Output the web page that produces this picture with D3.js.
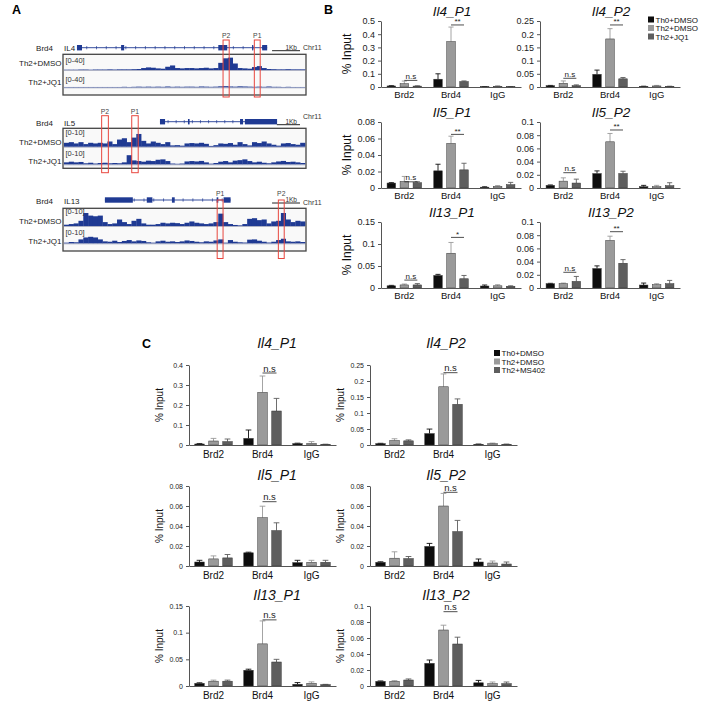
<!DOCTYPE html>
<html>
<head>
<meta charset="utf-8">
<script src="https://cdn.jsdelivr.net/npm/d3@7"></script>
<style>
  body { margin: 0; background: #fff; }
  svg { font-family: "Liberation Sans", Arial, sans-serif; }
</style>
</head>
<body>
<svg id="fig" width="709" height="703"></svg>
<script>
// ---------------- data ----------------
const groups = ['Brd2', 'Brd4', 'IgG'];
const seriesB = ['Th0+DMSO', 'Th2+DMSO', 'Th2+JQ1'];
const seriesC = ['Th0+DMSO', 'Th2+DMSO', 'Th2+MS402'];

// panel A: gene models (kb in window), peaks, coverage bins
const il4Span = [0.5, 7.31];
const il4Exons = [[0.5, 0.68], [2.08, 2.19], [5.56, 5.88], [6.77, 6.81], [7.13, 7.31]];
const il4Peaks = [['P2', 5.73, 5.95], ['P1', 6.85, 7.06]];
const il4Dmso = [1,1,1,1.5,1.5,1,1.5,1.5,1.5,2,1.5,2,2,2,2.5,3,6,8,7,5,4,10,14,6,5,6,6,5,6,7,5,6,22,36,38,20,6,5,4,9,12,6,3,2.5,2,2,2.5,2,2,2];
const il4Jq1 = [1,1,1,1,1,1,1,1,1,1,1,1,1.5,1,1.5,2,1.5,2,1.5,2,1.5,2.5,1.5,2,1.5,2,2,1.5,2.5,2,1.5,2,3,3.5,2.5,2,3,2.5,2,1.5,2,1.5,2.5,1.5,1.5,1,1.5,1,1,1];

const il5Span = [4.19, 9.25];
const il5Exons = [[4.19, 4.41], [5.4, 5.47], [7.65, 7.78], [7.86, 9.25]];
const il5Peaks = [['P2', 1.67, 1.96], ['P1', 2.97, 3.25]];
const il5Dmso = [3,3.5,2.5,3.5,2,3,2.5,3,2.5,4,2,5.5,6.5,3.5,7,9.8,4.5,2.5,4,3,2,3.5,1,1.2,0.8,2.5,2.8,2.5,3,2.2,0.6,1.2,2.5,2.2,2.8,1.5,3.5,2,1,3.5,2.8,4,2.5,1.5,0.8,2.5,2.8,2,1.5,3];
const il5Jq1 = [1.5,2,1.5,1.8,0.8,1.2,0.6,1,1.2,0.8,1,0.8,1.5,7,3,2.5,2,2.8,2.5,3.5,3.8,2.5,0.6,0.4,0.6,2.2,2.5,2.2,2.6,1.5,0.5,1,2,2.5,1.5,2.8,3.2,3.8,2.5,1.5,2,1.2,0.8,1.5,2.2,2.6,1.8,2,1.5,1];

const il13Span = [1.5, 6.0];
const il13Exons = [[1.5, 2.5], [3.0, 3.2], [3.9, 4.0], [5.5, 5.56], [5.75, 6.0]];
const il13Peaks = [['P1', 5.52, 5.73], ['P2', 7.71, 7.92]];
const il13Dmso = [1,1.5,2,4,10,8,7.5,8,3,1.5,2,5,3,1.5,4,5.5,2,1,1,1.5,2.5,2,2.5,2.2,1.5,2.5,3.5,2.5,2,1.5,2,3,9.5,3,1.5,0.8,0.5,1.5,5.5,6,4.5,5,2,3.5,4,10,5,3,4,3.5];
const il13Jq1 = [0.5,1,0.8,3,4.5,5,4.5,3,1.5,1.2,2,1,1.8,2.5,1.5,2.2,1.8,0.8,0.5,1.5,2,1.2,1.5,1,1.5,2.2,1.8,1.2,0.8,1.5,1.2,2.2,3,0.5,2.5,1.2,0.8,0.6,2.8,3,2,1.2,0.6,1.2,2.5,3.5,1.5,1.2,1.5,1];

// panel B (rows: Brd2, Brd4, IgG; cols: series)
const bIl4p1Mean = [[0.008,0.025,0.007],[0.059,0.344,0.041],[0.002,0.005,0.002]];
const bIl4p1Err  = [[0.002,0.02,0.002],[0.041,0.11,0.005],[0.001,0.005,0.001]];
const bIl4p1Ticks = [0,0.1,0.2,0.3,0.4,0.5];
const bIl4p1Sig = [['Brd2','n.s',0.05],['Brd4','**',0.47]];

const bIl4p2Mean = [[0.005,0.014,0.005],[0.048,0.182,0.031],[0.002,0.004,0.002]];
const bIl4p2Err  = [[0.001,0.009,0.003],[0.016,0.039,0.005],[0.001,0.002,0.001]];
const bIl4p2Ticks = [0,0.05,0.1,0.15,0.2,0.25];
const bIl4p2Sig = [['Brd2','n.s',0.033],['Brd4','**',0.235]];

const bIl5p1Mean = [[0.006,0.008,0.0064],[0.0208,0.054,0.022],[0.001,0.002,0.004]];
const bIl5p1Err  = [[0.0005,0.006,0.0012],[0.008,0.0088,0.008],[0.0005,0.001,0.0028]];
const bIl5p1Ticks = [0,0.02,0.04,0.06,0.08];
const bIl5p1Sig = [['Brd2','n.s',0.0075],['Brd4','**',0.065]];

const bIl5p2Mean = [[0.004,0.0104,0.0075],[0.0219,0.070,0.0219],[0.002,0.002,0.0035]];
const bIl5p2Err  = [[0.0006,0.005,0.0059],[0.004,0.0126,0.0035],[0.002,0.002,0.0045]];
const bIl5p2Ticks = [0,0.02,0.04,0.06,0.08,0.1];
const bIl5p2Sig = [['Brd2','n.s',0.0232],['Brd4','**',0.0879]];

const bIl13p1Mean = [[0.005,0.007,0.007],[0.0285,0.079,0.021],[0.0045,0.005,0.004]];
const bIl13p1Err  = [[0.001,0.002,0.003],[0.0025,0.0245,0.0075],[0.0023,0.0025,0.001]];
const bIl13p1Ticks = [0,0.05,0.1,0.15];
const bIl13p1Sig = [['Brd2','n.s',0.018],['Brd4','*',0.115]];

const bIl13p2Mean = [[0.0065,0.0065,0.01],[0.0295,0.072,0.0375],[0.0045,0.005,0.0065]];
const bIl13p2Err  = [[0.0006,0.001,0.0075],[0.004,0.0065,0.0055],[0.003,0.0015,0.005]];
const bIl13p2Ticks = [0,0.02,0.04,0.06,0.08,0.1];
const bIl13p2Sig = [['Brd2','n.s',0.0238],['Brd4','**',0.0853]];

// panel C
const cIl4p1Mean = [[0.005,0.02,0.017],[0.033,0.263,0.17],[0.007,0.008,0.003]];
const cIl4p1Err  = [[0.002,0.013,0.013],[0.042,0.082,0.063],[0.002,0.009,0.001]];
const cIl4p1Ticks = [0,0.1,0.2,0.3,0.4];
const cIl4p1Sig = [['Brd4','n.s',0.36]];

const cIl4p2Mean = [[0.0043,0.014,0.013],[0.0357,0.182,0.127],[0.002,0.004,0.002]];
const cIl4p2Err  = [[0.001,0.0055,0.003],[0.0141,0.04,0.017],[0.001,0.002,0.001]];
const cIl4p2Ticks = [0,0.05,0.1,0.15,0.2,0.25];
const cIl4p2Sig = [['Brd4','n.s',0.226]];

const cIl5p1Mean = [[0.004,0.0071,0.0081],[0.0132,0.0483,0.0354],[0.0034,0.0037,0.0037]];
const cIl5p1Err  = [[0.0017,0.003,0.0034],[0.0006,0.0115,0.0078],[0.0023,0.002,0.002]];
const cIl5p1Ticks = [0,0.02,0.04,0.06,0.08];
const cIl5p1Sig = [['Brd4','n.s',0.0643]];

const cIl5p2Mean = [[0.0037,0.0078,0.0074],[0.0196,0.060,0.0344],[0.004,0.003,0.002]];
const cIl5p2Err  = [[0.0005,0.0064,0.0021],[0.003,0.0126,0.0112],[0.003,0.002,0.002]];
const cIl5p2Ticks = [0,0.02,0.04,0.06,0.08];
const cIl5p2Sig = [['Brd4','n.s',0.0737]];

const cIl13p1Mean = [[0.005,0.009,0.009],[0.0295,0.079,0.045],[0.0032,0.005,0.0026]];
const cIl13p1Err  = [[0.001,0.002,0.002],[0.002,0.043,0.005],[0.0032,0.0027,0.0005]];
const cIl13p1Ticks = [0,0.05,0.1,0.15];
const cIl13p1Sig = [['Brd4','n.s',0.124]];

const cIl13p2Mean = [[0.0058,0.0058,0.0075],[0.0283,0.07,0.0525],[0.004,0.003,0.003]];
const cIl13p2Err  = [[0.0005,0.0009,0.0013],[0.0042,0.006,0.0085],[0.003,0.002,0.002]];
const cIl13p2Ticks = [0,0.02,0.04,0.06,0.08,0.1];
const cIl13p2Sig = [['Brd4','n.s',0.0929]];

// ---------------- drawing ----------------
const svg = d3.select('#fig');
const navy = '#1f3a93';
const barColors = ['#0d0d0d', '#9a9a9a', '#5e5e5e'];
const fmt = d3.format('~g');

// panel letters
[['A', 12, 14], ['B', 324, 14], ['C', 142, 348]].forEach(([t, x, y]) =>
  svg.append('text').attr('x', x).attr('y', y).attr('font-size', 12.5)
    .attr('font-weight', 'bold').text(t));

// ---- panel A: genome browser tracks ----
const aRows = [
  { gene: 'IL4',  kb: 8.7,  span: il4Span,  exons: il4Exons,  peaks: il4Peaks,  cov: [il4Dmso, il4Jq1],  range: '[0-40]', max: 40 },
  { gene: 'IL5',  kb: 10.5, span: il5Span,  exons: il5Exons,  peaks: il5Peaks,  cov: [il5Dmso, il5Jq1],  range: '[0-10]', max: 10 },
  { gene: 'IL13', kb: 8.7,  span: il13Span, exons: il13Exons, peaks: il13Peaks, cov: [il13Dmso, il13Jq1], range: '[0-10]', max: 10 }
];
const aPos = [
  { geneY: 47.7,  labY: 51,    box: [54.3, 95],    base: [70, 87.3],     rngY: [62.5, 82],    trkY: [66, 84.5],    red: [40, 97],      pY: 37.5,  chrY: 49.5 },
  { geneY: 121.7, labY: 125.5, box: [128.3, 168.3], base: [146.7, 164.3], rngY: [135.2, 156], trkY: [144.5, 164],  red: [115.7, 172.7], pY: 114,   chrY: 119 },
  { geneY: 200,   labY: 203.5, box: [208.3, 251],   base: [226, 243.3],   rngY: [214.3, 235.3], trkY: [223.5, 243.5], red: [200, 258.5], pY: 195.8, chrY: 204.5 }
];
const trackNames = ['Th2+DMSO', 'Th2+JQ1'];
const boxX = [63, 306];

aRows.forEach((r, i) => {
  const p = aPos[i];
  const x = d3.scaleLinear().domain([0, r.kb]).range(boxX);
  const ga = svg.append('g');

  ga.append('rect')
    .attr('x', boxX[0]).attr('y', p.box[0])
    .attr('width', boxX[1] - boxX[0]).attr('height', p.box[1] - p.box[0])
    .attr('fill', '#f9f9f9').attr('stroke', '#444').attr('stroke-width', 1.3);

  r.cov.forEach((vals, t) => {
    const xb = d3.scaleLinear().domain([0, vals.length]).range([boxX[0] + 1, boxX[1] - 1]);
    const h = d3.scaleLinear().domain([0, r.max]).range([0, 13]);
    ga.append('line')
      .attr('x1', boxX[0] + 1).attr('x2', boxX[1] - 1)
      .attr('y1', p.base[t] + 0.5).attr('y2', p.base[t] + 0.5)
      .attr('stroke', '#9aa0b8').attr('stroke-width', 0.8);
    ga.selectAll(null).data(vals).join('rect')
      .attr('x', (d, k) => xb(k))
      .attr('width', xb(1) - xb(0) + 0.3)
      .attr('y', d => p.base[t] - h(d))
      .attr('height', d => h(d))
      .attr('fill', navy);
    ga.append('text').attr('x', boxX[0] + 2.5).attr('y', p.rngY[t])
      .attr('font-size', 7.5).attr('fill', '#333').text(r.range);
    ga.append('text').attr('x', 61.5).attr('y', p.trkY[t])
      .attr('text-anchor', 'end').attr('font-size', 8).attr('fill', '#222')
      .text(trackNames[t]);
  });

  // gene model
  ga.append('text').attr('x', 53).attr('y', p.labY).attr('text-anchor', 'end')
    .attr('font-size', 8).attr('fill', '#222').text('Brd4');
  ga.append('text').attr('x', 64).attr('y', p.labY)
    .attr('font-size', 8).attr('fill', '#222').text(r.gene);
  ga.append('line')
    .attr('x1', x(r.span[0])).attr('x2', x(r.span[1]))
    .attr('y1', p.geneY).attr('y2', p.geneY)
    .attr('stroke', navy).attr('stroke-width', 0.9);
  d3.range(r.span[0] + 0.35, r.span[1], 0.35).forEach(k =>
    ga.append('line').attr('x1', x(k)).attr('x2', x(k))
      .attr('y1', p.geneY - 1.6).attr('y2', p.geneY + 1.6)
      .attr('stroke', navy).attr('stroke-width', 0.7));
  ga.selectAll(null).data(r.exons).join('rect')
    .attr('x', d => x(d[0])).attr('width', d => Math.max(1.2, x(d[1]) - x(d[0])))
    .attr('y', p.geneY - 2.7).attr('height', 5.4)
    .attr('fill', navy);

  // scale bar + chromosome
  ga.append('line').attr('x1', 300 - (x(1) - x(0))).attr('x2', 300)
    .attr('y1', p.geneY + 3).attr('y2', p.geneY + 3)
    .attr('stroke', '#222').attr('stroke-width', 1);
  ga.append('text').attr('x', 297).attr('y', p.geneY + 2.2).attr('text-anchor', 'end')
    .attr('font-size', 6.5).attr('fill', '#333').text('1Kb');
  ga.append('text').attr('x', 303).attr('y', p.chrY)
    .attr('font-size', 7).attr('fill', '#333').text('Chr11');

  // peak regions
  r.peaks.forEach(([name, a, b]) => {
    ga.append('rect').attr('x', x(a)).attr('y', p.red[0])
      .attr('width', x(b) - x(a)).attr('height', p.red[1] - p.red[0])
      .attr('fill', 'none').attr('stroke', '#e8473f').attr('stroke-width', 1);
    ga.append('text').attr('x', (x(a) + x(b)) / 2).attr('y', p.pY)
      .attr('text-anchor', 'middle').attr('font-size', 6.8).attr('fill', '#444').text(name);
  });
});

// ---- bar chart helper (panels B and C) ----
function drawBarChart(c, L) {
  const y = d3.scaleLinear().domain([0, d3.max(c.ticks)]).range([L.h, 0]);
  const x = d3.scaleBand().domain(groups).range([0, L.w]);
  const g = svg.append('g').attr('transform', `translate(${L.x0},${L.y0})`);
  const cx = (grp, si) => x(grp) + x.bandwidth() / 2 + (si - 1) * L.barStep;

  groups.forEach((grp, gi) => {
    c.mean[gi].forEach((v, si) => {
      const xc = cx(grp, si);
      const top = y(v + c.err[gi][si]);
      g.append('line').attr('x1', xc).attr('x2', xc).attr('y1', y(v)).attr('y2', top)
        .attr('stroke', barColors[si]).attr('stroke-width', 0.9);
      g.append('line').attr('x1', xc - L.barW * 0.3).attr('x2', xc + L.barW * 0.3)
        .attr('y1', top).attr('y2', top)
        .attr('stroke', barColors[si]).attr('stroke-width', 0.9);
      g.append('rect').attr('x', xc - L.barW / 2).attr('width', L.barW)
        .attr('y', y(v)).attr('height', L.h - y(v))
        .attr('fill', barColors[si]).attr('stroke', '#333').attr('stroke-width', 0.5);
    });
  });

  const ya = g.append('g')
    .call(d3.axisLeft(y).tickValues(c.ticks).tickSize(3).tickSizeOuter(0).tickFormat(fmt));
  ya.selectAll('text').attr('font-size', L.tickFont).attr('fill', '#222');
  const xa = g.append('g').attr('transform', `translate(0,${L.h})`)
    .call(d3.axisBottom(x).tickSize(0).tickSizeOuter(0).tickPadding(L.xPad));
  xa.selectAll('text').attr('font-size', L.labFont).attr('fill', '#111');
  g.selectAll('.domain, .tick line').attr('stroke', '#555');
  ya.attr('font-family', null); xa.attr('font-family', null);

  c.sig.forEach(([grp, label, level]) => {
    const x1 = cx(grp, 1), x2 = cx(grp, 2), yy = y(level);
    g.append('line').attr('x1', x1).attr('x2', x2).attr('y1', yy).attr('y2', yy)
      .attr('stroke', '#222').attr('stroke-width', 0.8);
    g.append('text').attr('x', (x1 + x2) / 2)
      .attr('y', label.includes('*') ? yy - 0.5 : yy - 1.5)
      .attr('text-anchor', 'middle').attr('font-size', L.sigFont).attr('fill', '#222')
      .text(label);
  });

  svg.append('text').attr('x', L.x0 + L.titleDx).attr('y', L.titleY)
    .attr('text-anchor', 'middle').attr('font-style', 'italic')
    .attr('font-size', L.titleFont).attr('fill', '#111').text(c.title);

  if (L.yLabel) {
    svg.append('text')
      .attr('transform', `translate(${L.x0 - L.yLabelDx},${L.y0 + L.h / 2}) rotate(-90)`)
      .attr('text-anchor', 'middle').attr('font-size', L.yLabelFont).attr('fill', '#111')
      .text('% Input');
  }
}

function drawLegend(names, x0, y0, step) {
  names.forEach((n, i) => {
    svg.append('rect').attr('x', x0).attr('y', y0 + i * step - 3)
      .attr('width', 6).attr('height', 6).attr('fill', barColors[i]);
    svg.append('text').attr('x', x0 + 7.5).attr('y', y0 + i * step + 3)
      .attr('font-size', 8).attr('fill', '#111').text(n);
  });
}

// ---- panel B ----
const chartsB = [
  { title: 'Il4_P1',  mean: bIl4p1Mean,  err: bIl4p1Err,  ticks: bIl4p1Ticks,  sig: bIl4p1Sig },
  { title: 'Il4_P2',  mean: bIl4p2Mean,  err: bIl4p2Err,  ticks: bIl4p2Ticks,  sig: bIl4p2Sig },
  { title: 'Il5_P1',  mean: bIl5p1Mean,  err: bIl5p1Err,  ticks: bIl5p1Ticks,  sig: bIl5p1Sig },
  { title: 'Il5_P2',  mean: bIl5p2Mean,  err: bIl5p2Err,  ticks: bIl5p2Ticks,  sig: bIl5p2Sig },
  { title: 'Il13_P1', mean: bIl13p1Mean, err: bIl13p1Err, ticks: bIl13p1Ticks, sig: bIl13p1Sig },
  { title: 'Il13_P2', mean: bIl13p2Mean, err: bIl13p2Err, ticks: bIl13p2Ticks, sig: bIl13p2Sig }
];
const bColX = [381, 540], bRowY = [21, 122, 222];
chartsB.forEach((c, i) => {
  const col = i % 2, row = Math.floor(i / 2);
  drawBarChart(c, {
    x0: bColX[col], y0: bRowY[row], w: 140, h: 66,
    barW: 8.5, barStep: 13, tickFont: 9, labFont: 9.5, xPad: 4, sigFont: 8,
    titleDx: 71, titleY: bRowY[row] - 5.5, titleFont: 13.5,
    yLabel: col === 0, yLabelDx: 30, yLabelFont: 12
  });
});
drawLegend(seriesB, 648, 19.5, 8.5);

// ---- panel C ----
const chartsC = [
  { title: 'Il4_P1',  mean: cIl4p1Mean,  err: cIl4p1Err,  ticks: cIl4p1Ticks,  sig: cIl4p1Sig },
  { title: 'Il4_P2',  mean: cIl4p2Mean,  err: cIl4p2Err,  ticks: cIl4p2Ticks,  sig: cIl4p2Sig },
  { title: 'Il5_P1',  mean: cIl5p1Mean,  err: cIl5p1Err,  ticks: cIl5p1Ticks,  sig: cIl5p1Sig },
  { title: 'Il5_P2',  mean: cIl5p2Mean,  err: cIl5p2Err,  ticks: cIl5p2Ticks,  sig: cIl5p2Sig },
  { title: 'Il13_P1', mean: cIl13p1Mean, err: cIl13p1Err, ticks: cIl13p1Ticks, sig: cIl13p1Sig },
  { title: 'Il13_P2', mean: cIl13p2Mean, err: cIl13p2Err, ticks: cIl13p2Ticks, sig: cIl13p2Sig }
];
const cColX = [189, 370], cRowY = [365, 486, 606], cTitleY = [347.5, 479.5, 599.5];
chartsC.forEach((c, i) => {
  const col = i % 2, row = Math.floor(i / 2);
  drawBarChart(c, {
    x0: cColX[col], y0: cRowY[row], w: 147, h: 80,
    barW: 9.5, barStep: 14, tickFont: 7, labFont: 10, xPad: 6, sigFont: 9.5,
    titleDx: col === 0 ? 88 : 76, titleY: cTitleY[row], titleFont: 14,
    yLabel: true, yLabelDx: 26, yLabelFont: 10
  });
});
drawLegend(seriesC, 494, 353, 8.5);
</script>
</body>
</html>
